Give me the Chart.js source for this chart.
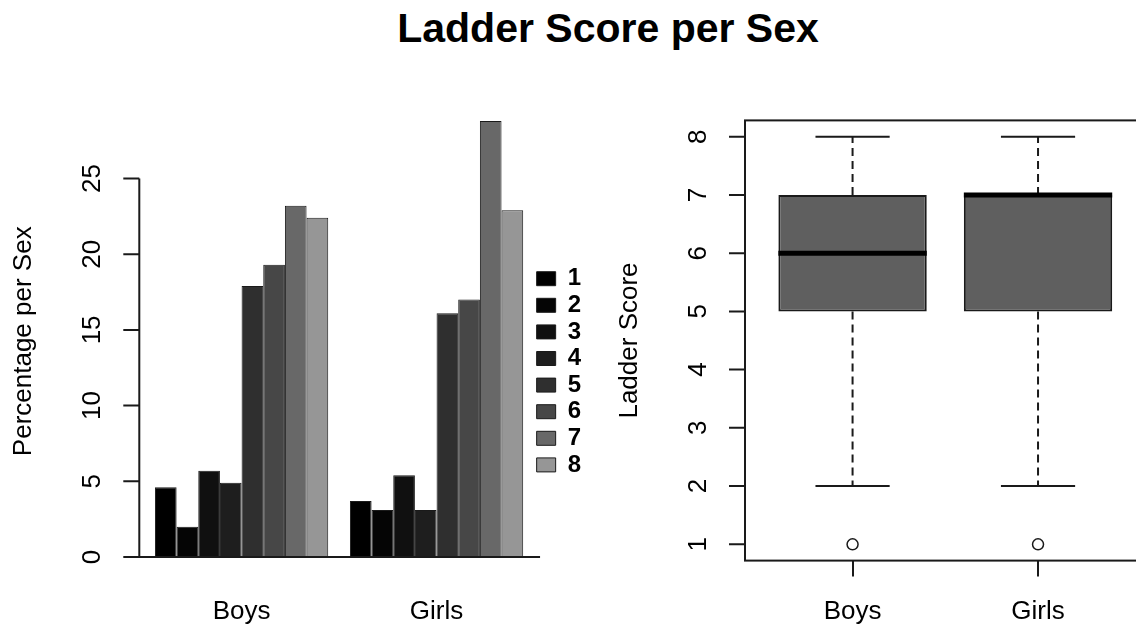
<!DOCTYPE html>
<html>
<head>
<meta charset="utf-8">
<script src="https://cdn.jsdelivr.net/npm/chart.js@4.4.1/dist/chart.umd.min.js"></script>
<style>
  body { margin: 0; width: 1136px; height: 628px; overflow: hidden; background: #fff; position: relative; }
  #title { position: absolute; left: 308px; top: 8px; width: 600px; text-align: center;
           font: bold 41px/41px "Liberation Sans", Arial, sans-serif; color: #000; }
  #left { position: absolute; left: 0; top: 0; }
  #right { position: absolute; left: 600px; top: 0; }
</style>
</head>
<body>
<div id="title">Ladder Score per Sex</div>
<canvas id="left" width="600" height="645"></canvas>
<canvas id="right" width="560" height="648"></canvas>
<script>
// barplot: percentage per ladder score, per sex
const sexes = ["Boys", "Girls"];
const scoreLabels = ["1", "2", "3", "4", "5", "6", "7", "8"];
const boysPct = [4.6, 2.0, 5.7, 4.9, 17.9, 19.3, 23.2, 22.4];
const girlsPct = [3.7, 3.1, 5.4, 3.1, 16.1, 17.0, 28.8, 22.9];
const barColors = ["#000000", "#050505", "#101010", "#1e1e1e", "#2f2f2f", "#474747", "#686868", "#969696"];
const barTicks = [0, 5, 10, 15, 20, 25];

// boxplot: ladder score per sex
const boxMin = [2, 2];
const boxQ1 = [5, 5];
const boxMedian = [6, 7];
const boxQ3 = [7, 7];
const boxMax = [8, 8];
const outliers = [1, 1];
const boxTicks = [1, 2, 3, 4, 5, 6, 7, 8];

const FONT = '"Liberation Sans", Arial, sans-serif';
Chart.defaults.font.family = FONT;
Chart.defaults.color = "#000";
const INK = "#1a1a1a";

// R style y axis: line only from first to last tick, labels turned 90 degrees
const rAxis = {
  id: "rAxis",
  afterDraw(chart, args, opts) {
    const ctx = chart.ctx;
    const area = chart.chartArea;
    const ys = chart.scales.y;
    const ax = area.left - opts.gap;
    const ticks = opts.ticks;
    ctx.save();
    ctx.strokeStyle = INK;
    ctx.lineWidth = 2;
    ctx.beginPath();
    ctx.moveTo(ax, ys.getPixelForValue(ticks[0]));
    ctx.lineTo(ax, ys.getPixelForValue(ticks[ticks.length - 1]));
    ticks.forEach(v => {
      const p = ys.getPixelForValue(v);
      ctx.moveTo(ax - 16, p);
      ctx.lineTo(ax, p);
    });
    if (opts.baseline) {
      const yb = ys.getPixelForValue(0);
      ctx.moveTo(ax - 16, yb);
      ctx.lineTo(area.right + 6, yb);
    }
    ctx.stroke();
    if (opts.frame) ctx.strokeRect(area.left, area.top, area.width, area.height);
    ctx.fillStyle = "#000";
    ctx.font = "26px " + FONT;
    ctx.textAlign = "center";
    ctx.textBaseline = "alphabetic";
    ticks.forEach(v => {
      ctx.save();
      ctx.translate(ax - 39, ys.getPixelForValue(v));
      ctx.rotate(-Math.PI / 2);
      ctx.fillText(String(v), 0, 0);
      ctx.restore();
    });
    ctx.restore();
  }
};

// medians, whiskers and caps on top of the box bars
const boxParts = {
  id: "boxParts",
  afterDatasetsDraw(chart) {
    const ctx = chart.ctx;
    const xs = chart.scales.x, ys = chart.scales.y;
    const bars = chart.getDatasetMeta(0).data;
    ctx.save();
    sexes.forEach((s, i) => {
      const cx = xs.getPixelForValue(i + 1);
      const half = bars[i].width / 2;
      ctx.strokeStyle = INK;
      ctx.lineWidth = 2;
      ctx.setLineDash([8, 5]);
      ctx.beginPath();
      ctx.moveTo(cx, ys.getPixelForValue(boxQ3[i]));
      ctx.lineTo(cx, ys.getPixelForValue(boxMax[i]));
      ctx.moveTo(cx, ys.getPixelForValue(boxQ1[i]));
      ctx.lineTo(cx, ys.getPixelForValue(boxMin[i]));
      ctx.stroke();
      ctx.setLineDash([]);
      ctx.beginPath();
      [boxMax[i], boxMin[i]].forEach(v => {
        ctx.moveTo(cx - half / 2, ys.getPixelForValue(v));
        ctx.lineTo(cx + half / 2, ys.getPixelForValue(v));
      });
      ctx.stroke();
      ctx.strokeStyle = "#000";
      ctx.lineWidth = 5;
      ctx.beginPath();
      ctx.moveTo(cx - half, ys.getPixelForValue(boxMedian[i]));
      ctx.lineTo(cx + half, ys.getPixelForValue(boxMedian[i]));
      ctx.stroke();
    });
    ctx.restore();
  }
};

new Chart(document.getElementById("left"), {
  type: "bar",
  data: {
    labels: sexes,
    datasets: scoreLabels.map((s, k) => ({
      label: s,
      data: [boysPct[k], girlsPct[k]],
      backgroundColor: barColors[k],
      borderColor: INK,
      borderWidth: 1,
      borderSkipped: false,
      barPercentage: 1,
      categoryPercentage: 0.8887
    }))
  },
  options: {
    responsive: false,
    animation: false,
    events: [],
    layout: { padding: { left: 0, top: 102.8, right: 9, bottom: 0.7 } },
    scales: {
      x: {
        grid: { display: false, drawTicks: false },
        border: { display: false },
        ticks: { font: { size: 26 }, padding: 16.7, color: "#000" }
      },
      y: {
        min: -1.5,
        max: 30,
        grid: { display: false, drawTicks: false },
        border: { display: false },
        ticks: { display: false },
        title: { display: true, text: "Percentage per Sex", font: { size: 26 }, color: "#000",
                 padding: { top: 8, bottom: 104.9 } }
      }
    },
    plugins: {
      tooltip: { enabled: false },
      legend: {
        position: "right",
        fullSize: false,
        title: { display: true, text: "", font: { size: 10 }, padding: { top: 49.1, bottom: 0 } },
        labels: { boxWidth: 19, boxHeight: 14, padding: 2.6, color: "#000",
                  font: { size: 24, weight: "bold" } }
      },
      rAxis: { gap: 4.8, ticks: barTicks, baseline: true, frame: false }
    }
  },
  plugins: [rAxis]
});

new Chart(document.getElementById("right"), {
  type: "bar",
  data: {
    datasets: [
      {
        type: "bar",
        data: sexes.map((s, i) => ({ x: i + 1, y: [boxQ1[i], boxQ3[i]] })),
        backgroundColor: "#5f5f5f",
        borderColor: INK,
        borderWidth: 2,
        borderSkipped: false,
        barPercentage: 1,
        categoryPercentage: 0.8
      },
      {
        type: "scatter",
        data: sexes.map((s, i) => ({ x: i + 1, y: outliers[i] })),
        pointRadius: 5.5,
        pointBackgroundColor: "#fff",
        pointBorderColor: INK,
        pointBorderWidth: 1.5
      }
    ]
  },
  options: {
    responsive: false,
    animation: false,
    events: [],
    layout: { padding: { left: 0, top: 120.4, right: 14.4, bottom: 0.6 } },
    scales: {
      x: {
        type: "linear",
        min: 0.42,
        max: 2.58,
        offset: false,
        afterBuildTicks: s => { s.ticks = sexes.map((n, i) => ({ value: i + 1 })); },
        grid: { display: true, offset: false, drawOnChartArea: false, drawTicks: true, tickLength: 16,
                color: INK, lineWidth: 2 },
        border: { display: false },
        ticks: { callback: v => sexes[v - 1], font: { size: 26 }, padding: 19.8, color: "#000",
                 autoSkip: false, maxRotation: 0 }
      },
      y: {
        min: 0.72,
        max: 8.28,
        grid: { display: false, drawTicks: false },
        border: { display: false },
        ticks: { display: false },
        title: { display: true, text: "Ladder Score", font: { size: 26 }, color: "#000",
                 padding: { top: 14, bottom: 99.8 } }
      }
    },
    plugins: {
      tooltip: { enabled: false },
      legend: { display: false },
      rAxis: { gap: 0, ticks: boxTicks, baseline: false, frame: true }
    }
  },
  plugins: [rAxis, boxParts]
});
</script>
</body>
</html>
